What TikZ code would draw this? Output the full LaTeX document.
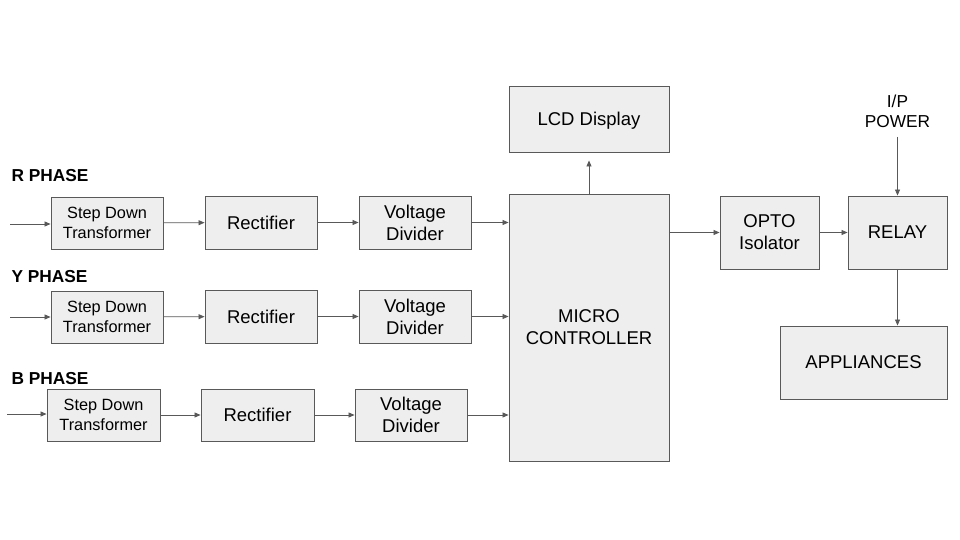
\documentclass[tikz,border=0pt]{standalone}
\usepackage{fontspec}
\setmainfont{Liberation Sans}
\usetikzlibrary{arrows.meta}
\definecolor{boxfill}{HTML}{EEEEEE}
\definecolor{linegray}{HTML}{595959}
\tikzset{
  blk/.style={draw=linegray, fill=boxfill, line width=0.9pt, align=center,
    inner sep=0pt, text depth=0pt, font=\fontsize{18.5}{22}\selectfont},
  small/.style={font=\fontsize{16.3}{19.5}\selectfont},
  phase/.style={anchor=west, font=\fontsize{17.3}{20}\selectfont\bfseries},
  arr/.style={draw=linegray, line width=0.8pt,
    -{Triangle[length=6pt,width=5pt]}}
}
\begin{document}
\begin{tikzpicture}[x=1pt,y=-1pt]
  \useasboundingbox (0,0) rectangle (960,540);
  % phase labels
  \node[phase] (labR) at (8,176) {R PHASE};
  \node[phase] (labY) at (8,277) {Y PHASE};
  \node[phase] (labB) at (8,379) {B PHASE};
  % R row
  \node[blk,small,minimum width=112,minimum height=52] (sdtR) at (107,223)
    {Step Down\\Transformer};
  \node[blk,minimum width=112,minimum height=53] (recR) at (261,222.5) {Rectifier};
  \node[blk,minimum width=112,minimum height=53] (vdR) at (415,222.5)
    {Voltage\\Divider};
  % Y row
  \node[blk,small,minimum width=112,minimum height=52] (sdtY) at (107,317)
    {Step Down\\Transformer};
  \node[blk,minimum width=112,minimum height=53] (recY) at (261,316.5) {Rectifier};
  \node[blk,minimum width=112,minimum height=53] (vdY) at (415,316.5)
    {Voltage\\Divider};
  % B row
  \node[blk,small,minimum width=113,minimum height=52] (sdtB) at (103.5,415)
    {Step Down\\Transformer};
  \node[blk,minimum width=113,minimum height=52] (recB) at (257.5,415) {Rectifier};
  \node[blk,minimum width=112,minimum height=52] (vdB) at (411,415)
    {Voltage\\Divider};
  % controller side
  \node[blk,minimum width=160,minimum height=267] (mcu) at (589,327.5)
    {MICRO\\CONTROLLER};
  \node[blk,minimum width=160,minimum height=66] (lcd) at (589,119) {LCD Display};
  \node[blk,minimum width=99,minimum height=73] (opto) at (769.5,232.5)
    {OPTO\\Isolator};
  \node[blk,minimum width=99,minimum height=73] (relay) at (897.5,232.5) {RELAY};
  \node[blk,minimum width=167,minimum height=73] (app) at (863.5,362.5)
    {APPLIANCES};
  \node[align=center, font=\fontsize{17.3}{20}\selectfont] (pwr) at (897.5,111)
    {I/P\\POWER};
  % inputs
  \coordinate (inR) at (10,224);
  \coordinate (inY) at (10,317);
  \coordinate (inB) at (7,414);
  \draw[arr] (inR) -- (inR -| sdtR.west);
  \draw[arr] (inY) -- (inY -| sdtY.west);
  \draw[arr] (inB) -- (inB -| sdtB.west);
  % chains
  \foreach \p in {R,Y,B} {
    \draw[arr] (sdt\p) -- (rec\p);
    \draw[arr] (rec\p) -- (vd\p);
    \draw[arr] (vd\p.east) -- (vd\p.east -| mcu.west);
  }
  \draw[arr, shorten >=8pt] (mcu.north) -- (lcd.south);
  \draw[arr] (mcu.east |- opto) -- (opto.west);
  \draw[arr] (opto) -- (relay);
  \draw[arr, shorten <=6pt] (relay.north |- pwr.south) -- (relay.north);
  \draw[arr] (relay.south) -- (relay.south |- app.north);
\end{tikzpicture}
\end{document}
